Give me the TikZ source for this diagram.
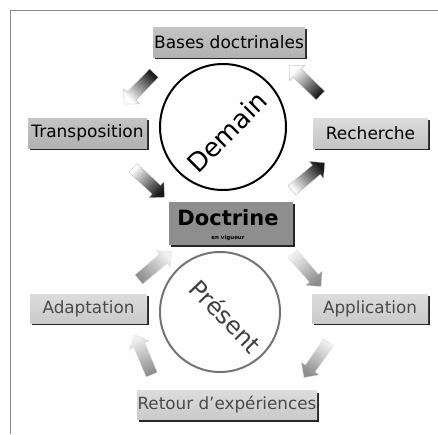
\documentclass[tikz,border=0pt]{standalone}
\usepackage{fontspec}
\setmainfont{DejaVu Sans}
\usetikzlibrary{shapes.arrows,shadows}
\definecolor{framegray}{HTML}{8A8A8A}
\definecolor{boxtop}{HTML}{C4C4C4}
\definecolor{boxbot}{HTML}{B2B2B2}
\definecolor{lboxtop}{HTML}{DCDCDC}
\definecolor{lboxbot}{HTML}{CACACA}
\definecolor{doctfill}{HTML}{8E8E8E}
\definecolor{ltext}{HTML}{4A4A4A}
\begin{document}
\begin{tikzpicture}[x=1pt,y=-1pt,
  boxshadow/.style={drop shadow={shadow xshift=2pt,shadow yshift=-2pt,fill=black!85,opacity=1}},
  topbox/.style={rectangle,top color=boxtop,bottom color=boxbot,boxshadow,
    minimum height=30pt,inner sep=0pt,font=\fontsize{17}{17}\selectfont,text=black},
  botbox/.style={rectangle,top color=lboxtop,bottom color=lboxbot,boxshadow,
    minimum height=29pt,inner sep=0pt,font=\fontsize{16.8}{17}\selectfont,text=ltext},
  barrow/.style={single arrow,inner xsep=0pt,inner ysep=5.8pt,single arrow head extend=5pt,
    minimum height=43pt,anchor=center,line width=0.3pt},
  % arrow with gradient from tail colour (#2) to tip colour (#3), rotated by #1
  grad/.style n args={3}{barrow,rotate=#1,left color=#2,right color=#3,shading angle=#1+90},
]
\useasboundingbox (0,0) rectangle (438,434);
% frame
\coordinate (fl) at (10.5,434);
\coordinate (fc) at (10.5,10.5);
\coordinate (fr) at (438,10.5);
\draw[framegray,line width=1.5pt] (fl) -- (fc) -- (fr);

% circles
\node[circle,draw=black,line width=2pt,minimum size=126pt] (demain) at (223,127) {};
\node[rotate=45,font=\fontsize{26}{26}\selectfont] (demaintxt) at (227,132) {Demain};
\node[circle,draw=black!55,line width=2pt,minimum size=120pt] (present) at (220,312) {};
\node[rotate=-46,font=\fontsize{24}{24}\selectfont,text=black!75] (presenttxt) at (226,316) {Présent};

% boxes
\node[topbox,minimum width=152pt] (bases) at (229,42) {Bases doctrinales};
\node[topbox,minimum width=119pt] (transp) at (87.5,133) {Transposition};
\node[topbox,minimum width=115pt,top color=lboxtop,bottom color=boxtop] (rech) at (370.5,133) {Recherche};
\node[rectangle,fill=doctfill,boxshadow,minimum width=124pt,minimum height=43pt,inner sep=0pt] (doct) at (231,223.5) {};
\node[font=\bfseries\fontsize{21}{21}\selectfont] (docttxt) at (228,218) {Doctrine};
\node[font=\bfseries\fontsize{5.5}{5.5}\selectfont] (doctsub) at (228,237.5) {en vigueur};
\node[botbox,minimum width=117pt] (adapt) at (88.5,308.5) {Adaptation};
\node[botbox,minimum width=116pt] (appl) at (370,308.5) {Application};
\node[botbox,minimum width=180pt] (retour) at (227,405) {Retour d’expériences};

% block arrows (top half, dark)
\node[grad={-134}{black!90}{white},draw=black!30] (a1) at (141,86.5) {};
\node[grad={-43}{white}{black!90},draw=black!30] (a2) at (146.5,180.5) {};
\node[grad={40}{white}{black!90},draw=black!30] (a3) at (306,178.5) {};
\node[grad={136}{black!90}{white},draw=black!30] (a4) at (307,82.5) {};
% block arrows (bottom half, light)
\node[grad={-49}{black!6}{black!45},draw=black!15] (a5) at (305,268) {};
\node[grad={-125}{black!6}{black!45},draw=black!15] (a6) at (318,357.5) {};
\node[grad={113}{black!45}{black!6},draw=black!15] (a7) at (144.5,357.5) {};
\node[grad={40}{black!45}{black!6},draw=black!15] (a8) at (153,267.5) {};
\end{tikzpicture}
\end{document}
